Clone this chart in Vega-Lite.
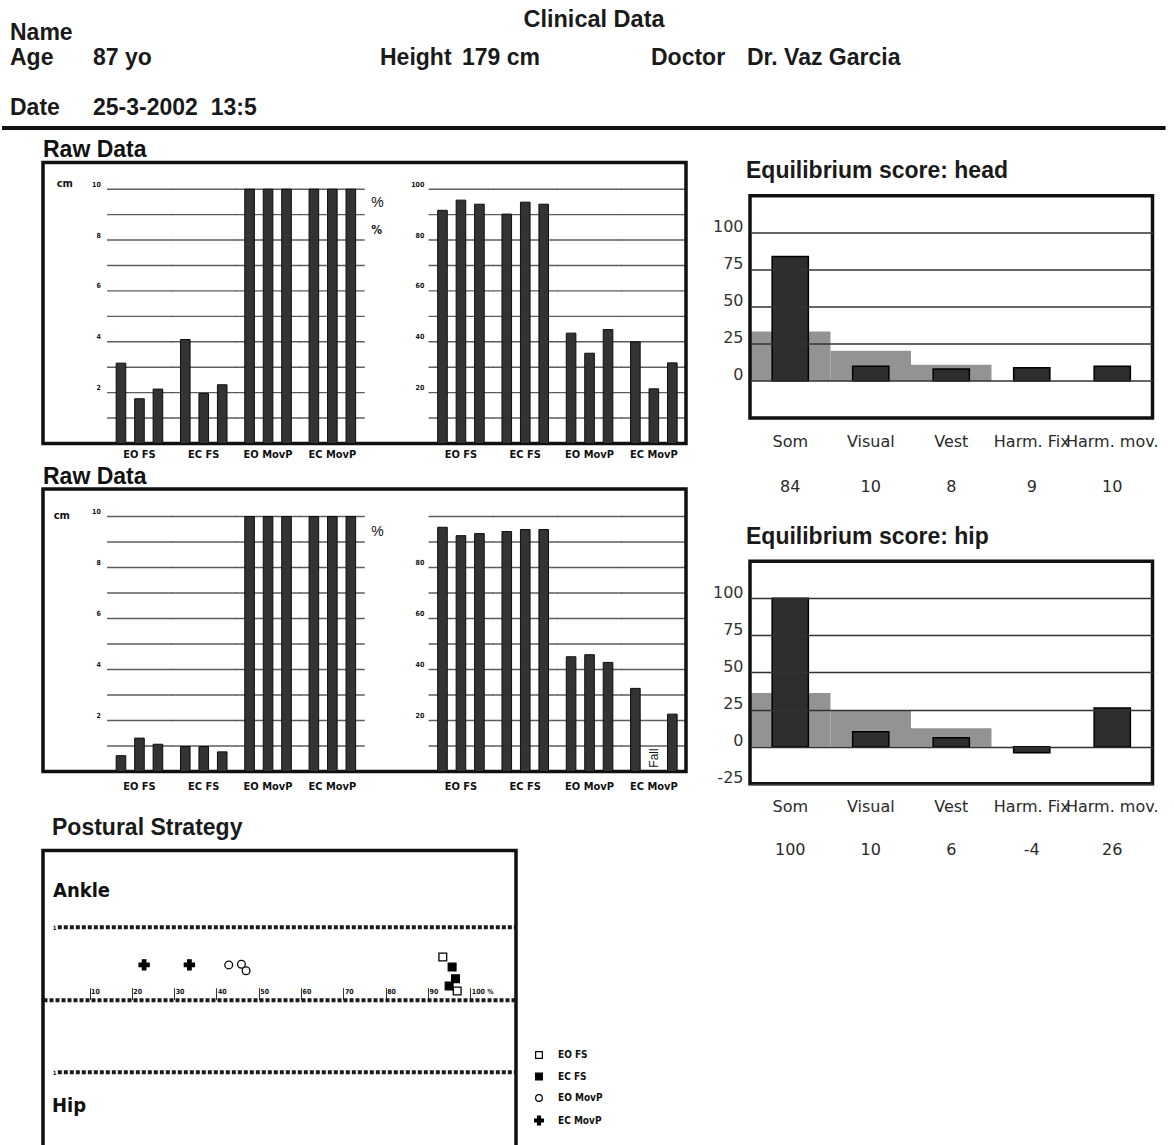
{
  "$schema": "https://vega.github.io/schema/vega-lite/v6.json",
  "padding": 0,
  "background": "white",
  "bounds": "flush",
  "align": "each",
  "columns": 2,
  "spacing": {"row": 45.5, "column": 64},
  "config": {
    "view": {"stroke": null},
    "font": "Liberation Sans",
    "axis": {"domain": false, "ticks": false, "tickSize": 0, "grid": false, "labelColor": "#111", "titleColor": "#111"},
    "title": {"color": "#111"}
  },
  "datasets": {
    "headerLeft": [
      {"row": 1, "col": 0, "text": "Name"},
      {"row": 2, "col": 0, "text": "Age"},
      {"row": 2, "col": 1, "text": "87 yo"},
      {"row": 2, "col": 2, "text": "Height"},
      {"row": 2, "col": 3, "text": "179 cm"},
      {"row": 3, "col": 0, "text": "Date"},
      {"row": 3, "col": 1, "text": "25-3-2002\u00a0 13:5"}
    ],
    "headerRight": [
      {"row": 2, "col": 0, "text": "Doctor"},
      {"row": 2, "col": 1, "text": "Dr. Vaz Garcia"}
    ],
    "grid": [
      {"g": "L|EO FS", "lv": [1,2,3,4,5,6,7,8,9,10]},
      {"g": "L|EC FS", "lv": [1,2,3,4,5,6,7,8,9,10]},
      {"g": "L|EO MovP", "lv": [1,2,3,4,5,6,7,8,9,10]},
      {"g": "L|EC MovP", "lv": [1,2,3,4,5,6,7,8,9,10]},
      {"g": "R|EO FS", "lv": [1,2,3,4,5,6,7,8,9,10]},
      {"g": "R|EC FS", "lv": [1,2,3,4,5,6,7,8,9,10]},
      {"g": "R|EO MovP", "lv": [1,2,3,4,5,6,7,8,9,10]},
      {"g": "R|EC MovP", "lv": [1,2,3,4,5,6,7,8,9,10]}
    ],
    "p1L": [
      {"g": "L|EO FS", "t": 1, "v": 3.16}, {"g": "L|EO FS", "t": 2, "v": 1.76}, {"g": "L|EO FS", "t": 3, "v": 2.14},
      {"g": "L|EC FS", "t": 1, "v": 4.09}, {"g": "L|EC FS", "t": 2, "v": 1.97}, {"g": "L|EC FS", "t": 3, "v": 2.31},
      {"g": "L|EO MovP", "t": 1, "v": 10}, {"g": "L|EO MovP", "t": 2, "v": 10}, {"g": "L|EO MovP", "t": 3, "v": 10},
      {"g": "L|EC MovP", "t": 1, "v": 10}, {"g": "L|EC MovP", "t": 2, "v": 10}, {"g": "L|EC MovP", "t": 3, "v": 10}
    ],
    "p1R": [
      {"g": "R|EO FS", "t": 1, "v": 91.7}, {"g": "R|EO FS", "t": 2, "v": 95.7}, {"g": "R|EO FS", "t": 3, "v": 94.1},
      {"g": "R|EC FS", "t": 1, "v": 90.2}, {"g": "R|EC FS", "t": 2, "v": 94.9}, {"g": "R|EC FS", "t": 3, "v": 94.1},
      {"g": "R|EO MovP", "t": 1, "v": 43.4}, {"g": "R|EO MovP", "t": 2, "v": 35.5}, {"g": "R|EO MovP", "t": 3, "v": 44.8},
      {"g": "R|EC MovP", "t": 1, "v": 40.0}, {"g": "R|EC MovP", "t": 2, "v": 21.5}, {"g": "R|EC MovP", "t": 3, "v": 31.7}
    ],
    "p2L": [
      {"g": "L|EO FS", "t": 1, "v": 0.62}, {"g": "L|EO FS", "t": 2, "v": 1.31}, {"g": "L|EO FS", "t": 3, "v": 1.07},
      {"g": "L|EC FS", "t": 1, "v": 0.98}, {"g": "L|EC FS", "t": 2, "v": 0.98}, {"g": "L|EC FS", "t": 3, "v": 0.77},
      {"g": "L|EO MovP", "t": 1, "v": 10}, {"g": "L|EO MovP", "t": 2, "v": 10}, {"g": "L|EO MovP", "t": 3, "v": 10},
      {"g": "L|EC MovP", "t": 1, "v": 10}, {"g": "L|EC MovP", "t": 2, "v": 10}, {"g": "L|EC MovP", "t": 3, "v": 10}
    ],
    "p2R": [
      {"g": "R|EO FS", "t": 1, "v": 95.8}, {"g": "R|EO FS", "t": 2, "v": 92.5}, {"g": "R|EO FS", "t": 3, "v": 93.3},
      {"g": "R|EC FS", "t": 1, "v": 94.1}, {"g": "R|EC FS", "t": 2, "v": 94.9}, {"g": "R|EC FS", "t": 3, "v": 94.9},
      {"g": "R|EO MovP", "t": 1, "v": 45.0}, {"g": "R|EO MovP", "t": 2, "v": 45.8}, {"g": "R|EO MovP", "t": 3, "v": 42.8},
      {"g": "R|EC MovP", "t": 1, "v": 32.6}, {"g": "R|EC MovP", "t": 3, "v": 22.5}
    ],
    "eqHead": [
      {"cat": "Som", "score": 84, "normal": 33.4},
      {"cat": "Visual", "score": 10, "normal": 20.4},
      {"cat": "Vest", "score": 8, "normal": 11},
      {"cat": "Harm. Fix", "score": 9},
      {"cat": "Harm. mov.", "score": 10}
    ],
    "eqHip": [
      {"cat": "Som", "score": 100, "normal": 36.2},
      {"cat": "Visual", "score": 10, "normal": 24.7},
      {"cat": "Vest", "score": 6, "normal": 12.4},
      {"cat": "Harm. Fix", "score": -4},
      {"cat": "Harm. mov.", "score": 26}
    ],
    "levels": [{"side": "Ankle", "lvl": 1}, {"side": "Hip", "lvl": -1}],
    "strategy": [
      {"cond": "EC MovP", "pct": 22.9, "s": 0.48},
      {"cond": "EC MovP", "pct": 33.6, "s": 0.48},
      {"cond": "EO MovP", "pct": 42.9, "s": 0.48},
      {"cond": "EO MovP", "pct": 45.9, "s": 0.49},
      {"cond": "EO MovP", "pct": 47.0, "s": 0.40},
      {"cond": "EO FS", "pct": 93.5, "s": 0.59},
      {"cond": "EO FS", "pct": 96.9, "s": 0.12},
      {"cond": "EC FS", "pct": 95.7, "s": 0.45},
      {"cond": "EC FS", "pct": 96.5, "s": 0.29},
      {"cond": "EC FS", "pct": 95.0, "s": 0.19}
    ]
  },
  "concat": [
    {
      "width": 643,
      "height": 116.5,
      "layer": [
        {
          "data": {"name": "headerLeft"},
          "mark": {"type": "text", "align": "left", "baseline": "middle", "font": "Liberation Sans", "fontWeight": "bold", "fontSize": 23, "color": "#1a1a1a"},
          "encoding": {
            "x": {"field": "col", "type": "quantitative", "scale": {"domain": [0, 1, 2, 3, 4], "range": [-33, 50, 337, 419, 551], "nice": false, "zero": false}, "axis": null},
            "y": {"field": "row", "type": "quantitative", "scale": {"domain": [0, 1, 2, 3, 4], "range": [20, 33, 58, 108, 128], "nice": false, "zero": false}, "axis": null},
            "text": {"field": "text", "type": "nominal"}
          }
        },
        {
          "data": {"values": [{"row": 0, "col": 4, "text": "Clinical Data"}]},
          "mark": {"type": "text", "align": "center", "baseline": "middle", "font": "Liberation Sans", "fontWeight": "bold", "fontSize": 23.5, "color": "#1a1a1a"},
          "encoding": {
            "x": {"field": "col", "type": "quantitative", "axis": null},
            "y": {"field": "row", "type": "quantitative", "axis": null},
            "text": {"field": "text", "type": "nominal"}
          }
        },
        {
          "data": {"values": [{"row": 4}]},
          "mark": {"type": "rule", "strokeWidth": 4, "color": "#111"},
          "encoding": {
            "x": {"datum": -0.096, "type": "quantitative", "axis": null},
            "x2": {"datum": 8.33},
            "y": {"field": "row", "type": "quantitative", "axis": null}
          }
        }
      ]
    },
    {
      "width": 402.5,
      "height": 116.5,
      "data": {"name": "headerRight"},
      "mark": {"type": "text", "align": "left", "baseline": "middle", "font": "Liberation Sans", "fontWeight": "bold", "fontSize": 23, "color": "#1a1a1a"},
      "encoding": {
        "x": {"field": "col", "type": "quantitative", "scale": {"domain": [0, 1], "range": [-99, -3], "nice": false, "zero": false}, "axis": null},
        "y": {"field": "row", "type": "quantitative", "scale": {"domain": [0, 1, 2, 3, 4], "range": [20, 33, 58, 108, 128], "nice": false, "zero": false}, "axis": null},
        "text": {"field": "text", "type": "nominal"}
      }
    },
    {
      "width": 643,
      "height": 281,
      "title": {"text": "Raw Data", "anchor": "start", "frame": "group", "offset": 0, "dy": 17.4, "baseline": "alphabetic", "fontSize": 23, "fontWeight": "bold", "font": "Liberation Sans", "color": "#111"},
      "view": {"stroke": "#111", "strokeWidth": 3.5},
      "resolve": {"scale": {"y": "independent"}},
      "layer": [
        {
          "data": {"name": "grid"},
          "transform": [{"flatten": ["lv"]}],
          "mark": {"type": "tick", "orient": "horizontal", "size": 64.8, "thickness": 1.4, "color": "#1a1a1a"},
          "encoding": {
            "x": {"field": "g", "type": "nominal", "scale": {"domain": ["pad", "L|EO FS", "L|EC FS", "L|EO MovP", "L|EC MovP", "gap", "R|EO FS", "R|EC FS", "R|EO MovP", "R|EC MovP"], "paddingInner": 0, "paddingOuter": 0},
              "axis": {"orient": "bottom", "title": null, "labelAngle": 0, "labelPadding": 5, "labelExpr": "indexof(datum.label, '|') > 0 ? slice(datum.label, 2) : ''", "labelFont": "Liberation Sans Narrow, DejaVu Sans Condensed, Arial Narrow, sans-serif", "labelFontWeight": "bold", "labelFontSize": 11, "labelColor": "#111"}},
            "y": {"field": "lv", "type": "quantitative", "scale": {"domain": [0, 11.05], "nice": false, "zero": false}, "axis": null}
          }
        },
        {
          "data": {"name": "p1L"},
          "mark": {"type": "bar", "fill": "#333333", "stroke": "#0d0d0d", "strokeWidth": 1},
          "encoding": {
            "x": {"field": "g", "type": "nominal",
              "axis": {"orient": "bottom", "title": null, "labelAngle": 0, "labelPadding": 5, "labelExpr": "indexof(datum.label, '|') > 0 ? slice(datum.label, 2) : ''", "labelFont": "Liberation Sans Narrow, DejaVu Sans Condensed, Arial Narrow, sans-serif", "labelFontWeight": "bold", "labelFontSize": 11, "labelColor": "#111"}},
            "xOffset": {"field": "t", "type": "ordinal", "scale": {"domain": [1, 2, 3], "paddingInner": 0.48, "paddingOuter": 0.48}},
            "y": {"field": "v", "type": "quantitative", "scale": {"domain": [0, 11.05], "nice": false, "zero": false},
              "axis": {"orient": "left", "offset": -64.3, "values": [2, 4, 6, 8, 10], "labelPadding": 7, "labelOffset": -5, "labelFont": "Liberation Sans Narrow, DejaVu Sans Condensed, Arial Narrow, sans-serif", "labelFontWeight": "bold", "labelFontSize": 7, "title": "cm", "titleAngle": 0, "titleX": -43, "titleY": 21, "titleAlign": "center", "titleBaseline": "middle", "titleFont": "Liberation Sans Narrow, DejaVu Sans Condensed, Arial Narrow, sans-serif", "titleFontSize": 11, "titleFontWeight": "bold"}}
          }
        },
        {
          "data": {"name": "p1R"},
          "mark": {"type": "bar", "fill": "#333333", "stroke": "#0d0d0d", "strokeWidth": 1},
          "encoding": {
            "x": {"field": "g", "type": "nominal",
              "axis": {"orient": "bottom", "title": null, "labelAngle": 0, "labelPadding": 5, "labelExpr": "indexof(datum.label, '|') > 0 ? slice(datum.label, 2) : ''", "labelFont": "Liberation Sans Narrow, DejaVu Sans Condensed, Arial Narrow, sans-serif", "labelFontWeight": "bold", "labelFontSize": 11, "labelColor": "#111"}},
            "xOffset": {"field": "t", "type": "ordinal", "scale": {"domain": [1, 2, 3], "paddingInner": 0.48, "paddingOuter": 0.48}},
            "y": {"field": "v", "type": "quantitative", "scale": {"domain": [0, 110.5], "nice": false, "zero": false},
              "axis": {"orient": "left", "offset": -385.8, "values": [20, 40, 60, 80, 100], "labelPadding": 5, "labelOffset": -5, "labelFont": "Liberation Sans Narrow, DejaVu Sans Condensed, Arial Narrow, sans-serif", "labelFontWeight": "bold", "labelFontSize": 7, "title": "%", "titleAngle": 0, "titleX": -51.8, "titleY": 40, "titleAlign": "center", "titleBaseline": "middle", "titleFont": "Liberation Sans", "titleFontSize": 14, "titleFontWeight": "normal"}}
          }
        },
        {
          "data": {"values": [{"label": "%"}]},
          "mark": {"type": "text", "align": "center", "baseline": "middle", "font": "Liberation Sans Narrow, DejaVu Sans Condensed, Arial Narrow, sans-serif", "fontWeight": "bold", "fontSize": 12, "color": "#111"},
          "encoding": {
            "x": {"datum": "gap", "type": "nominal", "bandPosition": 0.19,
              "axis": {"orient": "bottom", "title": null, "labelAngle": 0, "labelPadding": 5, "labelExpr": "indexof(datum.label, '|') > 0 ? slice(datum.label, 2) : ''", "labelFont": "Liberation Sans Narrow, DejaVu Sans Condensed, Arial Narrow, sans-serif", "labelFontWeight": "bold", "labelFontSize": 11, "labelColor": "#111"}},
            "y": {"datum": 8.4, "type": "quantitative", "scale": {"domain": [0, 11.05], "nice": false, "zero": false}, "axis": null},
            "text": {"field": "label", "type": "nominal"}
          }
        }
      ]
    },
    {
      "width": 402.5,
      "height": 255.5,
      "title": {"text": "Equilibrium score: head", "anchor": "start", "frame": "group", "dx": -4, "dy": 38.4, "offset": 0, "baseline": "alphabetic", "fontSize": 23, "fontWeight": "bold", "font": "Liberation Sans", "color": "#1a1a1a"},
      "data": {"name": "eqHead"},
      "layer": [
        {
          "mark": {"type": "bar", "width": 80.5, "fill": "#939393"},
          "encoding": {
            "x": {"field": "cat", "type": "nominal", "sort": null, "scale": {"paddingInner": 0.55, "paddingOuter": 0.275},
              "axis": {"title": null, "labelAngle": 0, "labelPadding": 15, "labelFont": "DejaVu Sans", "labelFontSize": 16, "labelColor": "#2a2a2a", "labelOverlap": false}},
            "y": {"field": "normal", "type": "quantitative", "scale": {"domain": [-25, 147.5], "nice": false},
              "axis": {"values": [0, 25, 50, 75, 100], "grid": true, "gridColor": "#333", "gridWidth": 1.5, "zindex": 1, "labelFont": "DejaVu Sans", "labelFontSize": 16, "labelColor": "#333", "labelPadding": 7, "labelOffset": -6, "title": null}}
          }
        },
        {
          "mark": {"type": "bar", "fill": "#2e2e2e", "stroke": "#000", "strokeWidth": 1.5},
          "encoding": {
            "x": {"field": "cat", "type": "nominal", "sort": null,
              "axis": {"title": null, "labelAngle": 0, "labelPadding": 15, "labelFont": "DejaVu Sans", "labelFontSize": 16, "labelColor": "#2a2a2a", "labelOverlap": false}},
            "y": {"field": "score", "type": "quantitative", "scale": {"domain": [-25, 147.5], "nice": false},
              "axis": {"values": [0, 25, 50, 75, 100], "grid": true, "gridColor": "#333", "gridWidth": 1.5, "zindex": 1, "labelFont": "DejaVu Sans", "labelFontSize": 16, "labelColor": "#333", "labelPadding": 7, "labelOffset": -6, "title": null}}
          }
        },
        {
          "mark": {"type": "text", "baseline": "middle", "dy": 68.5, "font": "DejaVu Sans", "fontSize": 16, "color": "#2a2a2a"},
          "encoding": {
            "x": {"field": "cat", "type": "nominal", "sort": null,
              "axis": {"title": null, "labelAngle": 0, "labelPadding": 15, "labelFont": "DejaVu Sans", "labelFontSize": 16, "labelColor": "#2a2a2a", "labelOverlap": false}},
            "y": {"datum": -25, "type": "quantitative", "scale": {"domain": [-25, 147.5], "nice": false},
              "axis": {"values": [0, 25, 50, 75, 100], "grid": true, "gridColor": "#333", "gridWidth": 1.5, "zindex": 1, "labelFont": "DejaVu Sans", "labelFontSize": 16, "labelColor": "#333", "labelPadding": 7, "labelOffset": -6, "title": null}},
            "text": {"field": "score", "type": "nominal"}
          }
        },
        {
          "data": {"values": [{"box": "frame"}]},
          "mark": {"type": "rect", "filled": false, "color": "#111", "strokeWidth": 3.5},
          "encoding": {
            "y": {"datum": -25, "type": "quantitative", "scale": {"domain": [-25, 147.5], "nice": false},
              "axis": {"values": [0, 25, 50, 75, 100], "grid": true, "gridColor": "#333", "gridWidth": 1.5, "zindex": 1, "labelFont": "DejaVu Sans", "labelFontSize": 16, "labelColor": "#333", "labelPadding": 7, "labelOffset": -6, "title": null}},
            "y2": {"datum": 125}
          }
        }
      ]
    },
    {
      "width": 643,
      "height": 282.5,
      "title": {"text": "Raw Data", "anchor": "start", "frame": "group", "offset": 0, "dy": 17.9, "baseline": "alphabetic", "fontSize": 23, "fontWeight": "bold", "font": "Liberation Sans", "color": "#111"},
      "view": {"stroke": "#111", "strokeWidth": 3.5},
      "resolve": {"scale": {"y": "independent"}},
      "layer": [
        {
          "data": {"name": "grid"},
          "transform": [{"flatten": ["lv"]}],
          "mark": {"type": "tick", "orient": "horizontal", "size": 64.8, "thickness": 1.4, "color": "#1a1a1a"},
          "encoding": {
            "x": {"field": "g", "type": "nominal", "scale": {"domain": ["pad", "L|EO FS", "L|EC FS", "L|EO MovP", "L|EC MovP", "gap", "R|EO FS", "R|EC FS", "R|EO MovP", "R|EC MovP"], "paddingInner": 0, "paddingOuter": 0},
              "axis": {"orient": "bottom", "title": null, "labelAngle": 0, "labelPadding": 9, "labelExpr": "indexof(datum.label, '|') > 0 ? slice(datum.label, 2) : ''", "labelFont": "Liberation Sans Narrow, DejaVu Sans Condensed, Arial Narrow, sans-serif", "labelFontWeight": "bold", "labelFontSize": 11, "labelColor": "#111"}},
            "y": {"field": "lv", "type": "quantitative", "scale": {"domain": [0, 11.08], "nice": false, "zero": false}, "axis": null}
          }
        },
        {
          "data": {"name": "p2L"},
          "mark": {"type": "bar", "fill": "#333333", "stroke": "#0d0d0d", "strokeWidth": 1},
          "encoding": {
            "x": {"field": "g", "type": "nominal",
              "axis": {"orient": "bottom", "title": null, "labelAngle": 0, "labelPadding": 9, "labelExpr": "indexof(datum.label, '|') > 0 ? slice(datum.label, 2) : ''", "labelFont": "Liberation Sans Narrow, DejaVu Sans Condensed, Arial Narrow, sans-serif", "labelFontWeight": "bold", "labelFontSize": 11, "labelColor": "#111"}},
            "xOffset": {"field": "t", "type": "ordinal", "scale": {"domain": [1, 2, 3], "paddingInner": 0.48, "paddingOuter": 0.48}},
            "y": {"field": "v", "type": "quantitative", "scale": {"domain": [0, 11.08], "nice": false, "zero": false},
              "axis": {"orient": "left", "offset": -64.3, "values": [2, 4, 6, 8, 10], "labelPadding": 7, "labelOffset": -5, "labelFont": "Liberation Sans Narrow, DejaVu Sans Condensed, Arial Narrow, sans-serif", "labelFontWeight": "bold", "labelFontSize": 7, "title": "cm", "titleAngle": 0, "titleX": -46, "titleY": 26.5, "titleAlign": "center", "titleBaseline": "middle", "titleFont": "Liberation Sans Narrow, DejaVu Sans Condensed, Arial Narrow, sans-serif", "titleFontSize": 11, "titleFontWeight": "bold"}}
          }
        },
        {
          "data": {"name": "p2R"},
          "mark": {"type": "bar", "fill": "#333333", "stroke": "#0d0d0d", "strokeWidth": 1},
          "encoding": {
            "x": {"field": "g", "type": "nominal",
              "axis": {"orient": "bottom", "title": null, "labelAngle": 0, "labelPadding": 9, "labelExpr": "indexof(datum.label, '|') > 0 ? slice(datum.label, 2) : ''", "labelFont": "Liberation Sans Narrow, DejaVu Sans Condensed, Arial Narrow, sans-serif", "labelFontWeight": "bold", "labelFontSize": 11, "labelColor": "#111"}},
            "xOffset": {"field": "t", "type": "ordinal", "scale": {"domain": [1, 2, 3], "paddingInner": 0.48, "paddingOuter": 0.48}},
            "y": {"field": "v", "type": "quantitative", "scale": {"domain": [0, 110.8], "nice": false, "zero": false},
              "axis": {"orient": "left", "offset": -385.8, "values": [20, 40, 60, 80], "labelPadding": 5, "labelOffset": -5, "labelFont": "Liberation Sans Narrow, DejaVu Sans Condensed, Arial Narrow, sans-serif", "labelFontWeight": "bold", "labelFontSize": 7, "title": "%", "titleAngle": 0, "titleX": -51.8, "titleY": 42.5, "titleAlign": "center", "titleBaseline": "middle", "titleFont": "Liberation Sans", "titleFontSize": 14, "titleFontWeight": "normal"}}
          }
        },
        {
          "data": {"values": [{"g": "R|EC MovP", "t": 2, "note": "Fall"}]},
          "mark": {"type": "text", "angle": 270, "align": "left", "baseline": "middle", "font": "Liberation Sans", "fontSize": 12, "color": "#111"},
          "encoding": {
            "x": {"field": "g", "type": "nominal",
              "axis": {"orient": "bottom", "title": null, "labelAngle": 0, "labelPadding": 9, "labelExpr": "indexof(datum.label, '|') > 0 ? slice(datum.label, 2) : ''", "labelFont": "Liberation Sans Narrow, DejaVu Sans Condensed, Arial Narrow, sans-serif", "labelFontWeight": "bold", "labelFontSize": 11, "labelColor": "#111"}},
            "xOffset": {"field": "t", "type": "ordinal", "scale": {"domain": [1, 2, 3], "paddingInner": 0.48, "paddingOuter": 0.48}},
            "y": {"datum": 1.5, "type": "quantitative", "scale": {"domain": [0, 110.8], "nice": false, "zero": false}, "axis": null},
            "text": {"field": "note", "type": "nominal"}
          }
        }
      ]
    },
    {
      "width": 402.5,
      "height": 316,
      "title": {"text": "Equilibrium score: hip", "anchor": "start", "frame": "group", "dx": -4, "dy": 77.9, "offset": 0, "baseline": "alphabetic", "fontSize": 23, "fontWeight": "bold", "font": "Liberation Sans", "color": "#1a1a1a"},
      "data": {"name": "eqHip"},
      "layer": [
        {
          "mark": {"type": "bar", "width": 80.5, "fill": "#939393"},
          "encoding": {
            "x": {"field": "cat", "type": "nominal", "sort": null, "scale": {"paddingInner": 0.55, "paddingOuter": 0.275},
              "axis": {"title": null, "labelAngle": 0, "labelPadding": -6.5, "labelFont": "DejaVu Sans", "labelFontSize": 16, "labelColor": "#2a2a2a", "labelOverlap": false}},
            "y": {"field": "normal", "type": "quantitative", "scale": {"domain": [-39.29, 173.65], "nice": false},
              "axis": {"values": [-25, 0, 25, 50, 75, 100], "labelExpr": "datum.value + ''", "grid": true, "gridColor": "#333", "gridWidth": 1.5, "zindex": 1, "labelFont": "DejaVu Sans", "labelFontSize": 16, "labelColor": "#333", "labelPadding": 7, "labelOffset": -6, "title": null}}
          }
        },
        {
          "mark": {"type": "bar", "fill": "#2e2e2e", "stroke": "#000", "strokeWidth": 1.5},
          "encoding": {
            "x": {"field": "cat", "type": "nominal", "sort": null,
              "axis": {"title": null, "labelAngle": 0, "labelPadding": -6.5, "labelFont": "DejaVu Sans", "labelFontSize": 16, "labelColor": "#2a2a2a", "labelOverlap": false}},
            "y": {"field": "score", "type": "quantitative", "scale": {"domain": [-39.29, 173.65], "nice": false},
              "axis": {"values": [-25, 0, 25, 50, 75, 100], "labelExpr": "datum.value + ''", "grid": true, "gridColor": "#333", "gridWidth": 1.5, "zindex": 1, "labelFont": "DejaVu Sans", "labelFontSize": 16, "labelColor": "#333", "labelPadding": 7, "labelOffset": -6, "title": null}}
          }
        },
        {
          "mark": {"type": "text", "baseline": "middle", "dy": 66.7, "font": "DejaVu Sans", "fontSize": 16, "color": "#2a2a2a"},
          "encoding": {
            "x": {"field": "cat", "type": "nominal", "sort": null,
              "axis": {"title": null, "labelAngle": 0, "labelPadding": -6.5, "labelFont": "DejaVu Sans", "labelFontSize": 16, "labelColor": "#2a2a2a", "labelOverlap": false}},
            "y": {"datum": -25, "type": "quantitative", "scale": {"domain": [-39.29, 173.65], "nice": false},
              "axis": {"values": [-25, 0, 25, 50, 75, 100], "labelExpr": "datum.value + ''", "grid": true, "gridColor": "#333", "gridWidth": 1.5, "zindex": 1, "labelFont": "DejaVu Sans", "labelFontSize": 16, "labelColor": "#333", "labelPadding": 7, "labelOffset": -6, "title": null}},
            "text": {"field": "score", "type": "nominal"}
          }
        },
        {
          "data": {"values": [{"box": "frame"}]},
          "mark": {"type": "rect", "filled": false, "color": "#111", "strokeWidth": 3.5},
          "encoding": {
            "y": {"datum": -25, "type": "quantitative", "scale": {"domain": [-39.29, 173.65], "nice": false},
              "axis": {"values": [-25, 0, 25, 50, 75, 100], "labelExpr": "datum.value + ''", "grid": true, "gridColor": "#333", "gridWidth": 1.5, "zindex": 1, "labelFont": "DejaVu Sans", "labelFontSize": 16, "labelColor": "#333", "labelPadding": 7, "labelOffset": -6, "title": null}},
            "y2": {"datum": 125}
          }
        }
      ]
    },
    {
      "width": 473,
      "height": 300,
      "title": {"text": "Postural Strategy", "anchor": "start", "frame": "group", "dx": 9, "offset": 0, "dy": 7.4, "baseline": "alphabetic", "fontSize": 23, "fontWeight": "bold", "font": "Liberation Sans", "color": "#1a1a1a"},
      "view": {"stroke": "#111", "strokeWidth": 3.5},
      "layer": [
        {
          "data": {"name": "levels"},
          "mark": {"type": "rule", "strokeWidth": 4, "strokeDash": [4, 2], "color": "#1a1a1a"},
          "encoding": {
            "x": {"datum": 2.5, "type": "quantitative", "scale": {"domain": [-1, 110.8], "nice": false, "zero": false},
              "axis": {"orient": "top", "offset": -149.2, "values": [10, 20, 30, 40, 50, 60, 70, 80, 90, 100], "labelExpr": "datum.value == 100 ? '100 %' : datum.label", "domain": true, "domainWidth": 4, "domainDash": [4, 2], "domainColor": "#1a1a1a", "ticks": true, "tickSize": 12, "tickWidth": 1, "tickColor": "#333", "labelAlign": "left", "labelBaseline": "bottom", "labelPadding": -6.3, "labelOffset": 1, "labelFont": "Liberation Sans Narrow, DejaVu Sans Condensed, Arial Narrow, sans-serif", "labelFontWeight": "bold", "labelFontSize": 7, "title": null}},
            "x2": {"datum": 110.8},
            "y": {"field": "lvl", "type": "quantitative", "scale": {"domain": [-2.08, 2.058], "nice": false, "zero": false},
              "axis": {"orient": "left", "offset": -14, "values": [1, -1], "labelExpr": "'1'", "labelPadding": 1, "labelFont": "Liberation Sans Narrow, DejaVu Sans Condensed, Arial Narrow, sans-serif", "labelFontWeight": "bold", "labelFontSize": 6, "title": null}}
          }
        },
        {
          "data": {"values": [{"label": "Ankle"}]},
          "mark": {"type": "text", "align": "left", "baseline": "middle", "dx": 10, "font": "Liberation Sans Narrow, DejaVu Sans Condensed, Arial Narrow, sans-serif", "fontWeight": "bold", "fontSize": 20, "color": "#111"},
          "encoding": {
            "x": {"datum": -1, "type": "quantitative",
              "axis": {"orient": "top", "offset": -149.2, "values": [10, 20, 30, 40, 50, 60, 70, 80, 90, 100], "labelExpr": "datum.value == 100 ? '100 %' : datum.label", "domain": true, "domainWidth": 4, "domainDash": [4, 2], "domainColor": "#1a1a1a", "ticks": true, "tickSize": 12, "tickWidth": 1, "tickColor": "#333", "labelAlign": "left", "labelBaseline": "bottom", "labelPadding": -6.3, "labelOffset": 1, "labelFont": "Liberation Sans Narrow, DejaVu Sans Condensed, Arial Narrow, sans-serif", "labelFontWeight": "bold", "labelFontSize": 7, "title": null}},
            "y": {"datum": 1.506, "type": "quantitative",
              "axis": {"orient": "left", "offset": -14, "values": [1, -1], "labelExpr": "'1'", "labelPadding": 1, "labelFont": "Liberation Sans Narrow, DejaVu Sans Condensed, Arial Narrow, sans-serif", "labelFontWeight": "bold", "labelFontSize": 6, "title": null}},
            "text": {"field": "label", "type": "nominal"}
          }
        },
        {
          "data": {"values": [{"label": "Hip"}]},
          "mark": {"type": "text", "align": "left", "baseline": "middle", "dx": 9, "font": "Liberation Sans Narrow, DejaVu Sans Condensed, Arial Narrow, sans-serif", "fontWeight": "bold", "fontSize": 20, "color": "#111"},
          "encoding": {
            "x": {"datum": -1, "type": "quantitative",
              "axis": {"orient": "top", "offset": -149.2, "values": [10, 20, 30, 40, 50, 60, 70, 80, 90, 100], "labelExpr": "datum.value == 100 ? '100 %' : datum.label", "domain": true, "domainWidth": 4, "domainDash": [4, 2], "domainColor": "#1a1a1a", "ticks": true, "tickSize": 12, "tickWidth": 1, "tickColor": "#333", "labelAlign": "left", "labelBaseline": "bottom", "labelPadding": -6.3, "labelOffset": 1, "labelFont": "Liberation Sans Narrow, DejaVu Sans Condensed, Arial Narrow, sans-serif", "labelFontWeight": "bold", "labelFontSize": 7, "title": null}},
            "y": {"datum": -1.473, "type": "quantitative",
              "axis": {"orient": "left", "offset": -14, "values": [1, -1], "labelExpr": "'1'", "labelPadding": 1, "labelFont": "Liberation Sans Narrow, DejaVu Sans Condensed, Arial Narrow, sans-serif", "labelFontWeight": "bold", "labelFontSize": 6, "title": null}},
            "text": {"field": "label", "type": "nominal"}
          }
        },
        {
          "data": {"name": "strategy"},
          "mark": {"type": "point", "strokeWidth": 1.3, "opacity": 1, "size": 60},
          "encoding": {
            "x": {"field": "pct", "type": "quantitative", "scale": {"domain": [-1, 110.8], "nice": false, "zero": false},
              "axis": {"orient": "top", "offset": -149.2, "values": [10, 20, 30, 40, 50, 60, 70, 80, 90, 100], "labelExpr": "datum.value == 100 ? '100 %' : datum.label", "domain": true, "domainWidth": 4, "domainDash": [4, 2], "domainColor": "#1a1a1a", "ticks": true, "tickSize": 12, "tickWidth": 1, "tickColor": "#333", "labelAlign": "left", "labelBaseline": "bottom", "labelPadding": -6.3, "labelOffset": 1, "labelFont": "Liberation Sans Narrow, DejaVu Sans Condensed, Arial Narrow, sans-serif", "labelFontWeight": "bold", "labelFontSize": 7, "title": null}},
            "y": {"field": "s", "type": "quantitative",
              "axis": {"orient": "left", "offset": -14, "values": [1, -1], "labelExpr": "'1'", "labelPadding": 1, "labelFont": "Liberation Sans Narrow, DejaVu Sans Condensed, Arial Narrow, sans-serif", "labelFontWeight": "bold", "labelFontSize": 6, "title": null}},
            "shape": {"field": "cond", "type": "nominal", "scale": {"domain": ["EO FS", "EC FS", "EO MovP", "EC MovP"], "range": ["square", "square", "circle", "M-0.45,-1.3H0.45V-0.45H1.3V0.45H0.45V1.3H-0.45V0.45H-1.3V-0.45H-0.45Z"]},
              "legend": {"title": null, "orient": "none", "legendX": 491, "legendY": 1050, "padding": 0, "rowPadding": 9.5, "labelOffset": 14, "labelFont": "Liberation Sans Narrow, DejaVu Sans Condensed, Arial Narrow, sans-serif", "labelFontWeight": "bold", "labelFontSize": 10, "labelColor": "#111", "symbolSize": 45, "symbolStrokeWidth": 1.2}},
            "fill": {"field": "cond", "type": "nominal", "scale": {"domain": ["EO FS", "EC FS", "EO MovP", "EC MovP"], "range": ["#ffffff", "#000000", "#ffffff", "#000000"]},
              "legend": {"title": null, "orient": "none", "legendX": 491, "legendY": 1050, "padding": 0, "rowPadding": 9.5, "labelOffset": 14, "labelFont": "Liberation Sans Narrow, DejaVu Sans Condensed, Arial Narrow, sans-serif", "labelFontWeight": "bold", "labelFontSize": 10, "labelColor": "#111", "symbolSize": 45, "symbolStrokeWidth": 1.2}},
            "stroke": {"field": "cond", "type": "nominal", "scale": {"domain": ["EO FS", "EC FS", "EO MovP", "EC MovP"], "range": ["#000000", "#000000", "#000000", "#000000"]},
              "legend": {"title": null, "orient": "none", "legendX": 491, "legendY": 1050, "padding": 0, "rowPadding": 9.5, "labelOffset": 14, "labelFont": "Liberation Sans Narrow, DejaVu Sans Condensed, Arial Narrow, sans-serif", "labelFontWeight": "bold", "labelFontSize": 10, "labelColor": "#111", "symbolSize": 45, "symbolStrokeWidth": 1.2}}
          }
        }
      ]
    }
  ]
}
